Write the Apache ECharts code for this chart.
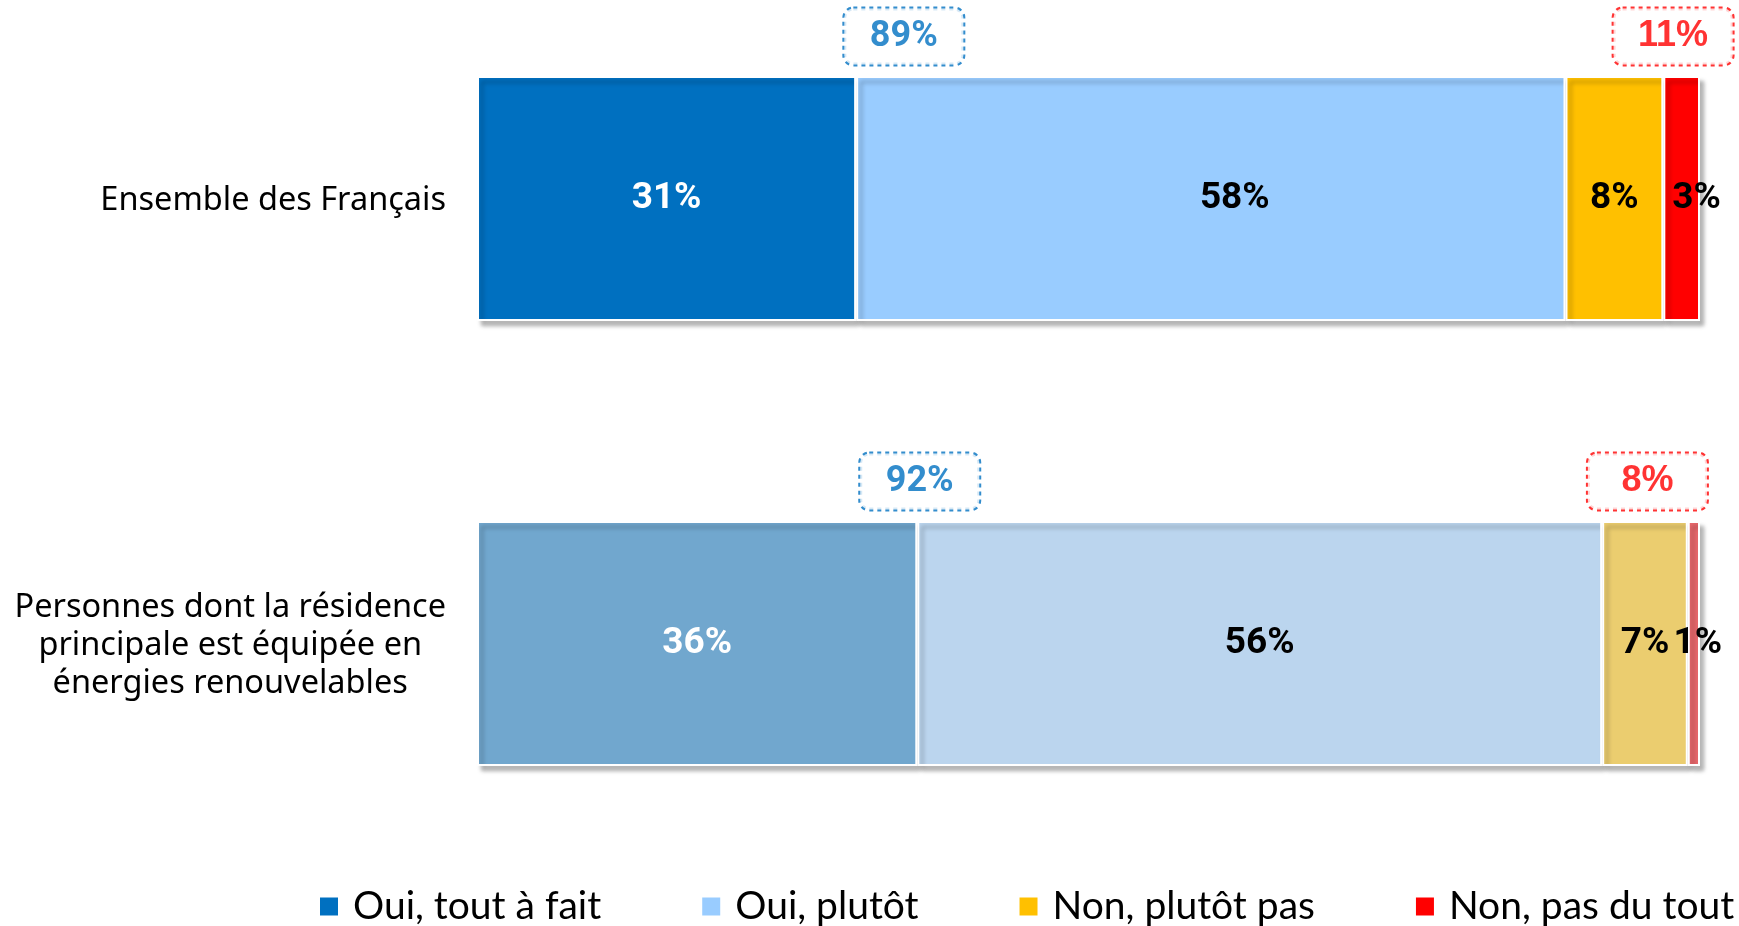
<!DOCTYPE html>
<html lang="fr">
<head>
<meta charset="utf-8" />
<title>Ensemble des Français</title>
<script src="https://cdn.jsdelivr.net/npm/echarts@6/dist/echarts.min.js"></script>
<style>
  html, body { margin: 0; padding: 0; background: #fff; }
  #chart { width: 1739px; height: 926px; }
</style>
</head>
<body>
<div id="chart"></div>
<script>
// données
var categories = ['Ensemble des Français', 'Personnes dont la résidence\nprincipale est équipée en\nénergies renouvelables'];
var seriesNames = ['Oui, tout à fait', 'Oui, plutôt', 'Non, plutôt pas', 'Non, pas du tout'];
var toutAFait = [31, 36];
var plutot = [58, 56];
var plutotPas = [8, 7];
var pasDuTout = [3, 1];

// couleurs : ligne 1 pleine, ligne 2 pâlie
var colorsRow1 = ['#0070C0', '#99CCFF', '#FFC000', '#FF0000'];
var colorsRow2 = ['#71A7CE', '#BBD5EE', '#EBCD6F', '#E8686C'];
var labelColors = ['#fff', '#000', '#000', '#000'];
// petits décalages des étiquettes (comme dans l'original)
var labelShift = [[[0, 0], [0, 0]], [[24, 0], [0, 0]], [[0, 0], [0, 0]], [[15, 0], [4, 0]]];
// position horizontale des pastilles (en % de l'axe)
var badgeOuiAt = [34.9, 36.2];
var badgeNonAt = [97.8, 95.7];

var values = [toutAFait, plutot, plutotPas, pasDuTout];
var ouiTotal = toutAFait.map(function (v, i) { return v + plutot[i]; });
var nonTotal = plutotPas.map(function (v, i) { return v + pasDuTout[i]; });

var myChart = echarts.init(document.getElementById('chart'));

var series = values.map(function (arr, s) {
    return {
        name: seriesNames[s],
        type: 'bar',
        stack: 'total',
        barWidth: 245,
        clip: false,
        itemStyle: {
            color: colorsRow1[s],
            borderColor: '#fff',
            borderWidth: 2,
            shadowColor: 'rgba(0,0,0,0.28)',
            shadowBlur: 4,
            shadowOffsetX: 4,
            shadowOffsetY: 5
        },
        label: {
            show: true,
            position: 'inside',
            formatter: '{c}%',
            color: labelColors[s],
            fontFamily: 'Roboto',
            fontWeight: 'bold',
            fontSize: 37
        },
        data: arr.map(function (v, i) {
            return {
                value: v,
                itemStyle: { color: i === 0 ? colorsRow1[s] : colorsRow2[s] },
                label: { offset: labelShift[s][i] }
            };
        })
    };
});

function badge(name, pos, totals, color, font) {
    return {
        name: name,
        type: 'scatter',
        symbolSize: 1,
        silent: true,
        clip: false,
        itemStyle: { color: 'rgba(0,0,0,0)' },
        label: {
            show: true,
            position: 'inside',
            offset: [0, -162],
            formatter: function (p) { return totals[p.dataIndex] + '%'; },
            color: color,
            fontFamily: font,
            fontWeight: 'bold',
            fontSize: 36,
            width: 119,
            height: 56,
            lineHeight: 56,
            align: 'center',
            verticalAlign: 'middle',
            backgroundColor: '#fff',
            borderColor: color,
            borderWidth: 2,
            borderType: 'dotted',
            borderRadius: 9
        },
        data: pos.map(function (x, i) { return [x, i]; })
    };
}

series.push(badge('oui', badgeOuiAt, ouiTotal, '#0070C0', 'Roboto'));
series.push(badge('non', badgeNonAt, nonTotal, '#FF0000', 'Liberation Sans'));

myChart.setOption({
    animation: false,
    grid: { left: 477, right: 39, top: 198.5, bottom: 282.5 },
    xAxis: {
        type: 'value',
        min: 0,
        max: 100,
        show: false
    },
    yAxis: {
        type: 'category',
        inverse: true,
        boundaryGap: false,
        data: categories,
        axisLine: { show: false },
        axisTick: { show: false },
        splitLine: { show: false },
        axisLabel: {
            margin: 31,
            align: 'right',
            formatter: function (v) {
                return v.split('\n').map(function (l) { return '{c|' + l + '}'; }).join('\n');
            },
            rich: {
                c: {
                    align: 'center',
                    fontFamily: 'Noto Sans',
                    fontSize: 32.5,
                    lineHeight: 38,
                    padding: [4, 0, 0, 0],
                    color: '#000'
                }
            }
        }
    },
    legend: {
        data: seriesNames,
        left: 318,
        top: 887,
        padding: 0,
        icon: 'rect',
        itemWidth: 20,
        itemHeight: 20,
        itemGap: 99,
        textStyle: {
            fontFamily: 'Lato',
            fontSize: 39,
            color: '#000',
            padding: [0, 0, 0, 9]
        }
    },
    series: series
});
</script>
</body>
</html>
